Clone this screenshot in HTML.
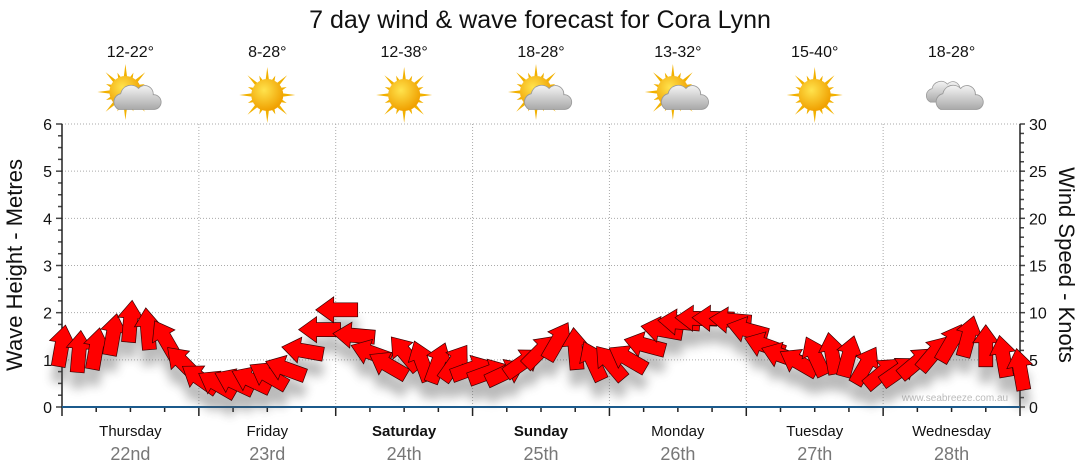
<!DOCTYPE html>
<html><head><meta charset="utf-8">
<style>
html,body{margin:0;padding:0;background:#fff;}
svg{display:block;font-family:"Liberation Sans",sans-serif;}
</style></head>
<body>
<svg id="chart" width="1080" height="475" viewBox="0 0 1080 475">
<defs>
<filter id="shadow" x="-20%" y="-50%" width="140%" height="200%"><feGaussianBlur stdDeviation="5"/></filter>
<radialGradient id="sunG" cx="40%" cy="35%" r="65%"><stop offset="0" stop-color="#ffe34d"/><stop offset="1" stop-color="#f0a000"/></radialGradient>
<linearGradient id="cloudG" x1="0" y1="0" x2="0" y2="1"><stop offset="0" stop-color="#f4f4f4"/><stop offset="1" stop-color="#a9a9a9"/></linearGradient>
</defs>
<text x="540" y="28" text-anchor="middle" font-size="25" fill="#111">7 day wind &amp; wave forecast for Cora Lynn</text>
<g id="grid"></g>
<g id="axes"></g>
<g id="topG"></g>
<text x="955" y="401" text-anchor="middle" font-size="10" fill="#bbb">www.seabreeze.com.au</text>
<g id="shadowLayer" filter="url(#shadow)" opacity="0.4"></g>
<g id="arrows"></g>
<text transform="translate(22,265) rotate(-90)" text-anchor="middle" font-size="22" fill="#111">Wave Height - Metres</text>
<text transform="translate(1059,265) rotate(90)" text-anchor="middle" font-size="22" fill="#111">Wind Speed - Knots</text>
</svg>
<script>
const days = ["Thursday","Friday","Saturday","Sunday","Monday","Tuesday","Wednesday"];
const dates = ["22nd","23rd","24th","25th","26th","27th","28th"];
const boldDays = [false,false,true,true,false,false,false];
const temps = ["12-22°","8-28°","12-38°","18-28°","13-32°","15-40°","18-28°"];
const icons = ["partly","sun","sun","partly","partly","sun","cloud"];
const waveTicks = [0,1,2,3,4,5,6];
const windTicks = [0,5,10,15,20,25,30];
// wind speed (knots), 3-hourly from Thursday 00:00
const windSpeed = [6.6,6.0,6.3,7.8,9.2,8.4,7.3,4.8,
 3.1,2.5,2.7,2.9,3.4,4.1,6.0,8.2,
 10.3,7.6,5.8,4.5,5.8,5.0,4.8,4.8,
 4.1,3.7,3.7,4.8,6.0,7.1,6.3,5.0,
 4.8,5.2,6.6,8.2,9.0,9.4,9.4,9.2,
 8.2,6.6,5.5,4.8,5.5,5.8,5.5,4.5,
 3.7,3.9,4.8,5.8,6.9,7.6,6.6,5.5,4.1];
// arrow pointing direction (screen degrees, 0 = right, -90 = up)
const windDir = [-80,-85,-80,-80,-85,-95,-120,-135,
 -145,-150,-155,-155,-150,-160,-170,-180,
 -180,-175,-160,-150,-130,-110,-70,-55,
 -20,-20,-25,-35,-45,-60,-95,-115,
 -130,-150,-165,-170,-175,-178,-178,-175,
 -165,-160,-160,-150,-115,-100,-75,-60,
 -40,-35,-40,-50,-60,-75,-90,-100,-100];

const NS="http://www.w3.org/2000/svg";
const X0=62,X1=1020,Y0=407,Y1=124;
const dayW=(X1-X0)/7;
function xStep(i){return X0+i*(X1-X0)/(windSpeed.length-1);}
function yWave(m){return Y0-(Y0-Y1)*m/6;}
function yWind(k){return Y0-(Y0-Y1)*k/30;}
function mk(tag,attrs,parent){const e=document.createElementNS(NS,tag);for(const k in attrs)e.setAttribute(k,attrs[k]);parent.appendChild(e);return e;}
const gridG=document.getElementById('grid'),axesG=document.getElementById('axes'),topLayer=document.getElementById('topG');

waveTicks.forEach(function(v){
  if(v>0){const l=mk('line',{x1:X0,x2:X1,y1:yWave(v),y2:yWave(v),stroke:'#aaa','stroke-dasharray':'1,2'},gridG);
  
  }
  const t=mk('text',{x:X0-10,y:yWave(v)+6,'text-anchor':'end','font-size':16,fill:'#111'},axesG);t.textContent=v;
  
  
});
for(let q=0;q<=24;q++){const y=yWave(q/4);mk('line',{x1:X0-(q%4==0?6:4),x2:X0,y1:y,y2:y,stroke:'#444','stroke-width':1.5},axesG);}
windTicks.forEach(function(v){
  const t=mk('text',{x:X1+9,y:yWind(v)+6,'font-size':16,fill:'#111'},axesG);t.textContent=v;
  
  
});
for(let k=0;k<=30;k++){const y=yWind(k);mk('line',{x1:X1,x2:X1+(k%5==0?5:4),y1:y,y2:y,stroke:'#444','stroke-width':1.5},axesG);}
for(let d=1;d<7;d++){const x=X0+d*dayW;const l=mk('line',{x1:x,x2:x,y1:Y1,y2:Y0,stroke:'#aaa','stroke-dasharray':'1,2'},gridG);
  
  }
for(let h=0;h<=28;h++){const x=X0+h*dayW/4;mk('line',{x1:x,x2:x,y1:Y0,y2:Y0+(h%4==0?9:5),stroke:'#222','stroke-width':1.5},axesG);}
mk('line',{x1:X0,x2:X0,y1:Y1,y2:Y0,stroke:'#222','stroke-width':1.5},axesG);
mk('line',{x1:X1,x2:X1,y1:Y1,y2:Y0,stroke:'#222','stroke-width':1.5},axesG);
const xa=mk('line',{x1:X0,x2:X1,y1:Y0,y2:Y0,stroke:'#1b5a8c','stroke-width':2},axesG);



function sunIcon(g,cx,cy){
  for(let i=0;i<16;i++){const a=i*Math.PI/8,L=(i%2==0)?28:21;
    mk('polygon',{points:(cx+Math.cos(a)*L)+','+(cy+Math.sin(a)*L)+' '+(cx+Math.cos(a+0.13)*14)+','+(cy+Math.sin(a+0.13)*14)+' '+(cx+Math.cos(a-0.13)*14)+','+(cy+Math.sin(a-0.13)*14),fill:'#f2b100'},g);}
  mk('circle',{cx:cx,cy:cy,r:16,fill:'url(#sunG)'},g);
}
function cloudIcon(g,cx,cy,s){
  mk('path',{d:'M'+(cx-17)+','+(cy+9)+' a8,8 0 0 1 2,-15 a10,10 0 0 1 17,-5 a8,8 0 0 1 14,6 a7,7 0 0 1 1,14 z',fill:'url(#cloudG)',stroke:'#999','stroke-width':0.8,transform:'translate('+cx+','+cy+') scale('+s+') translate('+(-cx)+','+(-cy)+')'},g);
}
days.forEach(function(name,d){
  const cx=X0+d*dayW+dayW/2;
  const g=mk('g',{},topLayer);
  
  
  const t=mk('text',{x:cx,y:57,'text-anchor':'middle','font-size':16,fill:'#111'},g);t.textContent=temps[d];
  
  
  const ic=mk('g',{},g);
  
  
  if(icons[d]=='sun')sunIcon(ic,cx,95);
  else if(icons[d]=='partly'){sunIcon(ic,cx-5,92);cloudIcon(ic,cx+6,100,1.05);}
  else {cloudIcon(ic,cx-6,94,0.9);cloudIcon(ic,cx+7,100,1.05);}
  const dl=mk('text',{x:cx,y:436,'text-anchor':'middle','font-size':15,fill:'#111','font-weight':boldDays[d]?'bold':'normal'},g);dl.textContent=name;
  
  
  const dt=mk('text',{x:cx,y:460,'text-anchor':'middle','font-size':18,fill:'#777'},g);dt.textContent=dates[d];
  
  
});

const arrowPts='-22,-7 2,-7 2,-13 20,0 2,13 2,7 -22,7';
const sh=document.getElementById('shadowLayer'),ar=document.getElementById('arrows');
windSpeed.forEach(function(k,i){
  const x=xStep(i),y=yWind(k);
  mk('polygon',{points:arrowPts,fill:'#555',transform:'translate('+x+','+(y+16)+') rotate('+windDir[i]+')'},sh);
});
windSpeed.forEach(function(k,i){
  const x=xStep(i),y=yWind(k);
  const p=mk('polygon',{points:arrowPts,fill:'#ff0000',stroke:'#3a0000','stroke-width':0.7,'stroke-linejoin':'miter',transform:'translate('+x+','+y+') rotate('+windDir[i]+')'},ar);
  
  
});
</script>
</body></html>
